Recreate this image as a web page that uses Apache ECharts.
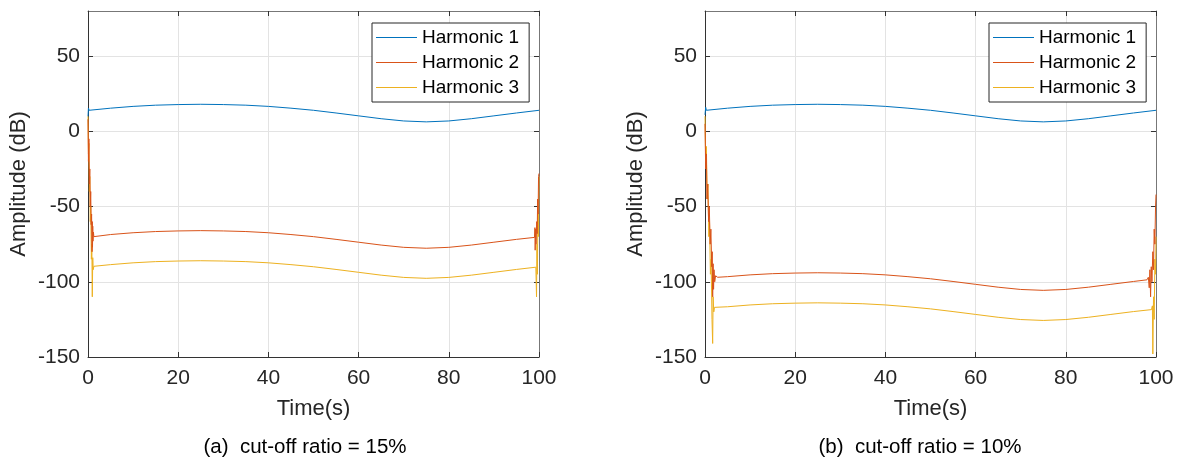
<!DOCTYPE html>
<html>
<head>
<meta charset="utf-8">
<script src="https://cdn.jsdelivr.net/npm/echarts@6/dist/echarts.min.js"></script>
<style>
  html, body { margin: 0; padding: 0; background: #fff; }
  #chart { width: 1179px; height: 461px; }
</style>
</head>
<body>
<div id="chart"></div>
<script>
const seriesNames = ["Harmonic 1", "Harmonic 2", "Harmonic 3"];
const captions = ["(a)  cut-off ratio = 15%", "(b)  cut-off ratio = 10%"];
const yTicks = [-150, -100, -50, 0, 50];
const xTicks = [0, 20, 40, 60, 80, 100];

// (a) cut-off ratio = 15%
const h1a = [[0, 10], [0.1, 15.5], [0.25, 14], [0.5, 14.2], [5, 15.4], [10, 16.6], [15, 17.4], [20, 17.8], [25, 18.0],
  [30, 17.8], [35, 17.4], [40, 16.6], [45, 15.4], [50, 14.0], [55, 12.2], [60, 10.3], [65, 8.4], [70, 6.9],
  [75, 6.3], [80, 6.9], [85, 8.4], [90, 10.3], [95, 12.2], [100, 14.0]];
const h2a = [[0, 8], [0.1, -20], [0.2, -5], [0.3, -35], [0.4, -25], [0.5, -50], [0.6, -40], [0.7, -62], [0.8, -55],
  [0.9, -80], [0.95, -60], [1.0, -77], [1.05, -63], [1.1, -73], [1.2, -67], [1.3, -70], [1.5, -69.5],
  [5, -68.6], [10, -67.4], [15, -66.6], [20, -66.2], [25, -66.0], [30, -66.2], [35, -66.6], [40, -67.4],
  [45, -68.6], [50, -70.0], [55, -71.8], [60, -73.7], [65, -75.6], [70, -77.1], [75, -77.7], [80, -77.1],
  [85, -75.6], [90, -73.7], [95, -71.8], [99, -70.5], [99.1, -64], [99.15, -79], [99.25, -65], [99.35, -75],
  [99.5, -60], [99.6, -68], [99.7, -45], [99.8, -55], [99.9, -30], [100, -28]];
const h3a = [[0, 10], [0.1, -15], [0.2, -8], [0.3, -40], [0.4, -30], [0.5, -60], [0.6, -50], [0.75, -85], [0.85, -75],
  [0.95, -110], [1.05, -84], [1.15, -92], [1.3, -89.7], [5, -88.6], [10, -87.4], [15, -86.6], [20, -86.2],
  [25, -86.0], [30, -86.2], [35, -86.6], [40, -87.4], [45, -88.6], [50, -90.0], [55, -91.8], [60, -93.7],
  [65, -95.6], [70, -97.1], [75, -97.7], [80, -97.1], [85, -95.6], [90, -93.7], [95, -91.8], [99.3, -90.3],
  [99.45, -110], [99.55, -75], [99.65, -95], [99.75, -55], [99.85, -70], [100, -30]];

// (b) cut-off ratio = 10%
const h1b = [[0, 11], [0.15, 16], [0.3, 14], [0.6, 14.2], [5, 15.4], [10, 16.6], [15, 17.4], [20, 17.8], [25, 18.0],
  [30, 17.8], [35, 17.4], [40, 16.6], [45, 15.4], [50, 14.0], [55, 12.2], [60, 10.3], [65, 8.4], [70, 6.9],
  [75, 6.3], [80, 6.9], [85, 8.4], [90, 10.3], [95, 12.2], [100, 14.0]];
const h2b = [[0, 5], [0.15, -25], [0.3, -15], [0.45, -45], [0.6, -35], [0.8, -60], [0.95, -50], [1.15, -75],
  [1.3, -65], [1.5, -90], [1.6, -80], [1.7, -110], [1.8, -88], [1.9, -105], [2.0, -92], [2.15, -100],
  [2.35, -96], [2.8, -97.0], [5, -96.6], [10, -95.4], [15, -94.6], [20, -94.2], [25, -94.0], [30, -94.2],
  [35, -94.6], [40, -95.4], [45, -96.6], [50, -98.0], [55, -99.8], [60, -101.7], [65, -103.6], [70, -105.1],
  [75, -105.7], [80, -105.1], [85, -103.6], [90, -101.7], [95, -99.8], [98, -98.7], [98.3, -97], [98.5, -104],
  [98.65, -92], [98.8, -110], [98.95, -90], [99.1, -100], [99.3, -80], [99.45, -92], [99.6, -65], [99.75, -75],
  [99.9, -50], [100, -42]];
const h3b = [[0, 10], [0.15, -20], [0.3, -10], [0.5, -45], [0.65, -35], [0.85, -70], [1.0, -60], [1.2, -95],
  [1.35, -85], [1.55, -125], [1.7, -141], [1.8, -110], [1.95, -120], [2.1, -117], [5, -116.6], [10, -115.4],
  [15, -114.6], [20, -114.2], [25, -114.0], [30, -114.2], [35, -114.6], [40, -115.4], [45, -116.6],
  [50, -118.0], [55, -119.8], [60, -121.7], [65, -123.6], [70, -125.1], [75, -125.7], [80, -125.1],
  [85, -123.6], [90, -121.7], [95, -119.8], [99, -118.5], [99.2, -116], [99.3, -148], [99.45, -110],
  [99.6, -125], [99.75, -85], [99.9, -95], [100, -70]];

const colors = ["#0072BD", "#D95319", "#EDB120"];
const font = "Liberation Sans, Arial, Helvetica, sans-serif";
const gridLefts = [88, 705];

function xAxes(g) {
  const base = { type: "value", gridIndex: g, min: 0, max: 100, interval: 20 };
  return [
    {
      ...base, position: "bottom", name: "Time(s)", nameLocation: "middle", nameGap: 41,
      nameTextStyle: { fontSize: 22, color: "#262626", fontFamily: font },
      axisLine: { onZero: false, lineStyle: { color: "#333", width: 1 } },
      axisTick: { inside: true, length: 5, lineStyle: { color: "#333" } },
      axisLabel: { fontSize: 21, color: "#262626", fontFamily: font, margin: 11,
        formatter: (v) => (xTicks.includes(v) ? String(v) : "") },
      splitLine: { show: true, lineStyle: { color: "#e3e3e3", width: 1 } },
    },
    {
      ...base, position: "top",
      axisLine: { onZero: false, lineStyle: { color: "#777", width: 1 } },
      axisTick: { inside: true, length: 5, lineStyle: { color: "#333" } },
      axisLabel: { show: false },
      splitLine: { show: false },
    },
  ];
}

function yAxes(g) {
  const base = { type: "value", gridIndex: g, min: -150, max: 80, interval: 50 };
  return [
    {
      ...base, position: "left", name: "Amplitude (dB)", nameLocation: "middle", nameGap: 58,
      nameTextStyle: { fontSize: 22, color: "#262626", fontFamily: font },
      axisLine: { show: true, onZero: false, lineStyle: { color: "#333", width: 1 } },
      axisTick: { show: true, inside: true, length: 5, lineStyle: { color: "#333" } },
      axisLabel: { fontSize: 21, color: "#262626", fontFamily: font, margin: 8, showMaxLabel: false,
        formatter: (v) => (yTicks.includes(v) ? String(v) : "") },
      splitLine: { show: true, lineStyle: { color: "#e3e3e3", width: 1 } },
    },
    {
      ...base, position: "right",
      axisLine: { show: true, onZero: false, lineStyle: { color: "#777", width: 1 } },
      axisTick: { show: true, inside: true, length: 5, lineStyle: { color: "#333" } },
      axisLabel: { show: false },
      splitLine: { show: false },
    },
  ];
}

function lineSeries(name, data, g) {
  return {
    name, type: "line", data, xAxisIndex: g * 2, yAxisIndex: g * 2,
    symbol: "none", smooth: false, lineStyle: { width: 1 }, clip: true,
    z: 3 - seriesNames.indexOf(name),
  };
}

function legend(g) {
  return {
    orient: "vertical", left: gridLefts[g] + 284, top: 23,
    data: seriesNames, itemWidth: 41, itemHeight: 20, itemGap: 6,
    icon: "path://M0,0H41V1.2H0Z",
    padding: [5, 10, 5, 4], borderColor: "#262626", borderWidth: 1, backgroundColor: "#fff",
    textStyle: { fontSize: 19, color: "#000", fontFamily: font },
    selectedMode: false,
  };
}

const option = {
  animation: false,
  backgroundColor: "#fff",
  color: colors,
  grid: [
    { left: gridLefts[0], top: 11, width: 451, height: 346 },
    { left: gridLefts[1], top: 11, width: 451, height: 346 },
  ],
  xAxis: [...xAxes(0), ...xAxes(1)],
  yAxis: [...yAxes(0), ...yAxes(1)],
  legend: [legend(0), legend(1)],
  title: [
    { text: captions[0], left: 300, top: 432, textAlign: "center",
      textStyle: { fontSize: 20.5, fontWeight: "normal", color: "#000", fontFamily: font } },
    { text: captions[1], left: 915, top: 432, textAlign: "center",
      textStyle: { fontSize: 20.5, fontWeight: "normal", color: "#000", fontFamily: font } },
  ],
  series: [
    lineSeries(seriesNames[0], h1a, 0),
    lineSeries(seriesNames[1], h2a, 0),
    lineSeries(seriesNames[2], h3a, 0),
    lineSeries(seriesNames[0], h1b, 1),
    lineSeries(seriesNames[1], h2b, 1),
    lineSeries(seriesNames[2], h3b, 1),
  ],
};

const chart = echarts.init(document.getElementById("chart"));
chart.setOption(option);
</script>
</body>
</html>
